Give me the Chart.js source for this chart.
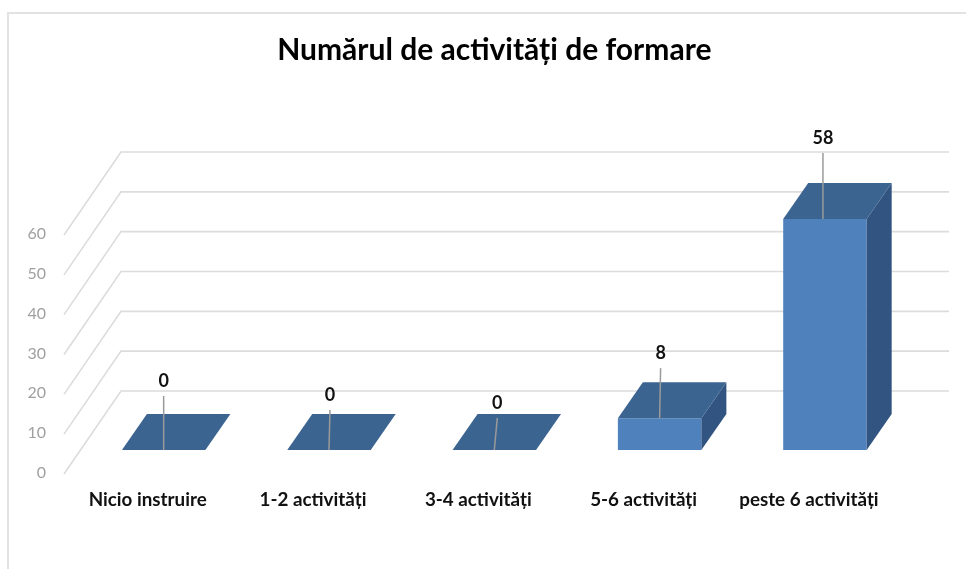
<!DOCTYPE html>
<html lang="ro">
<head>
<meta charset="utf-8">
<title>Numărul de activități de formare</title>
<script src="https://cdn.jsdelivr.net/npm/chart.js@4"></script>
<style>
  html, body { margin: 0; background: #fff; overflow: hidden; }
  #frame { position: absolute; left: 7px; top: 12px; right: 0; bottom: 0; border-left: 2px solid #e2e2e2; border-top: 2px solid #e2e2e2; }
  canvas { position: absolute; left: 0; top: 0; }
</style>
</head>
<body>
<div id="frame"></div>
<canvas id="myChart" width="966" height="569"></canvas>
<script>
const chartTitle = 'Numărul de activități de formare';
const categories = ['Nicio instruire', '1-2 activități', '3-4 activități', '5-6 activități', 'peste 6 activități'];
const activityCounts = [0, 0, 0, 8, 58];

// hand placed data labels, the leader line runs from label to bar
const leaderLift = [54, 40, 32, 50, 66];
const leaderLean = [0, 1, 3, 1, -2];
const leaderFoot = [0, 0, 0, 0, -2];

const wallShift = { x: 40, y: -59 };
const floorShift = { x: -17, y: 24 };
const barDepth = { x: 25, y: -36 };

const fontName = 'Lato, sans-serif';

const box3d = {
  id: 'box3d',
  beforeDatasetsDraw(chart) {
    const c = chart.ctx;
    const yScale = chart.scales.y;
    const left = chart.chartArea.left;
    c.save();
    c.strokeStyle = '#dcdcdc';
    c.lineWidth = 1.6;
    yScale.ticks.forEach(t => {
      const y = yScale.getPixelForValue(t.value);
      c.beginPath();
      c.moveTo(left + floorShift.x, y + floorShift.y);
      c.lineTo(left + wallShift.x, y + wallShift.y);
      c.lineTo(949, y + wallShift.y);
      c.stroke();
    });
    c.restore();
  },
  afterDatasetsDraw(chart) {
    const c = chart.ctx;
    const base = chart.scales.y.getPixelForValue(0);
    c.save();
    chart.getDatasetMeta(0).data.forEach((bar, i) => {
      const x1 = bar.x - bar.width / 2;
      const x2 = bar.x + bar.width / 2;
      const top = bar.y;

      c.fillStyle = '#325480';
      c.beginPath();
      c.moveTo(x2, top);
      c.lineTo(x2 + barDepth.x, top + barDepth.y);
      c.lineTo(x2 + barDepth.x, base + barDepth.y);
      c.lineTo(x2, base);
      c.closePath();
      c.fill();

      c.fillStyle = '#3c6491';
      c.beginPath();
      c.moveTo(x1, top);
      c.lineTo(x1 + barDepth.x, top + barDepth.y);
      c.lineTo(x2 + barDepth.x, top + barDepth.y);
      c.lineTo(x2, top);
      c.closePath();
      c.fill();

      const labelY = top - leaderLift[i];
      c.strokeStyle = '#9a9a9a';
      c.lineWidth = 1.5;
      c.beginPath();
      c.moveTo(bar.x + leaderFoot[i], top);
      c.lineTo(bar.x + leaderLean[i], labelY);
      c.stroke();

      c.fillStyle = '#111';
      c.font = 'bold 18px ' + fontName;
      c.textAlign = 'center';
      c.textBaseline = 'middle';
      c.fillText(activityCounts[i], bar.x + leaderLean[i], labelY - 15);
    });
    c.restore();
  }
};

const ctx = document.getElementById('myChart').getContext('2d');
const chart = new Chart(ctx, {
  type: 'bar',
  plugins: [box3d],
  data: {
    labels: categories,
    datasets: [
      {
        data: activityCounts,
        backgroundColor: '#4f81bd',
        borderWidth: 0,
        barPercentage: 1,
        categoryPercentage: 0.505
      }
    ]
  },
  options: {
    responsive: false,
    animation: false,
    layout: { padding: { right: 58.4 } },
    plugins: {
      legend: { display: false },
      tooltip: { enabled: false },
      title: {
        display: true,
        text: chartTitle,
        fullSize: false,
        color: '#000',
        font: { family: fontName, size: 30, weight: 'bold' },
        padding: { top: 32, bottom: 143 }
      }
    },
    scales: {
      x: {
        afterFit: scale => { scale.height = 119; },
        grid: { display: false },
        border: { display: false },
        ticks: {
          color: '#111',
          font: { family: fontName, size: 18.8, weight: 'bold' },
          padding: 31,
          labelOffset: -16,
          maxRotation: 0
        }
      },
      y: {
        min: 0,
        max: 60,
        afterFit: scale => { scale.width = 81; },
        grid: { display: false },
        border: { display: false },
        ticks: {
          stepSize: 10,
          color: '#a0a0a0',
          font: { family: fontName, size: 16 },
          padding: 27,
          labelOffset: 23
        }
      }
    }
  }
});
</script>
</body>
</html>
